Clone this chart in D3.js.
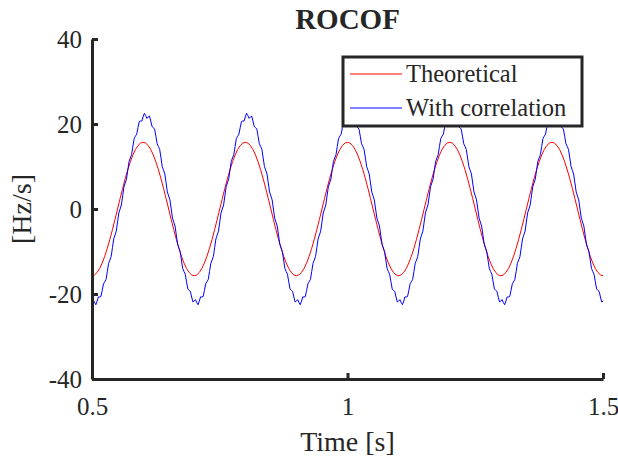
<!DOCTYPE html>
<html>
<head>
<meta charset="utf-8">
<script src="https://cdn.jsdelivr.net/npm/d3@7"></script>
<style>
  html, body { margin: 0; padding: 0; background: #fff; }
  svg { display: block; }
  text { font-family: "Liberation Serif", "Times New Roman", serif; fill: #262626; }
</style>
</head>
<body>
<script>
// ROCOF over time: theoretical vs. estimate with correlation
const title = "ROCOF";
const xLabel = "Time [s]";
const yLabel = "[Hz/s]";
const xTicks = [0.5, 1, 1.5];
const yTicks = [-40, -20, 0, 20, 40];
const seriesNames = ["Theoretical", "With correlation"];

// sample times: start and spacing of each series
const tStart = 0.5;
const theoreticalStep = 0.005;
const correlationStep = 0.0025;

// Theoretical ROCOF [Hz/s], one sample every 5 ms from 0.5 s to 1.5 s
const theoretical = [
  -15.70,-15.51,-14.93,-13.99,-12.70,-11.10,-9.23,-7.13,-4.85,-2.46,
  0,2.46,4.85,7.13,9.23,11.10,12.70,13.99,14.93,15.51,
  15.70,15.51,14.93,13.99,12.70,11.10,9.23,7.13,4.85,2.46,
  0,-2.46,-4.85,-7.13,-9.23,-11.10,-12.70,-13.99,-14.93,-15.51,
  -15.70,-15.51,-14.93,-13.99,-12.70,-11.10,-9.23,-7.13,-4.85,-2.46,
  0,2.46,4.85,7.13,9.23,11.10,12.70,13.99,14.93,15.51,
  15.70,15.51,14.93,13.99,12.70,11.10,9.23,7.13,4.85,2.46,
  0,-2.46,-4.85,-7.13,-9.23,-11.10,-12.70,-13.99,-14.93,-15.51,
  -15.70,-15.51,-14.93,-13.99,-12.70,-11.10,-9.23,-7.13,-4.85,-2.46,
  0,2.46,4.85,7.13,9.23,11.10,12.70,13.99,14.93,15.51,
  15.70,15.51,14.93,13.99,12.70,11.10,9.23,7.13,4.85,2.46,
  0,-2.46,-4.85,-7.13,-9.23,-11.10,-12.70,-13.99,-14.93,-15.51,
  -15.70,-15.51,-14.93,-13.99,-12.70,-11.10,-9.23,-7.13,-4.85,-2.46,
  0,2.46,4.85,7.13,9.23,11.10,12.70,13.99,14.93,15.51,
  15.70,15.51,14.93,13.99,12.70,11.10,9.23,7.13,4.85,2.46,
  0,-2.46,-4.85,-7.13,-9.23,-11.10,-12.70,-13.99,-14.93,-15.51,
  -15.70,-15.51,-14.93,-13.99,-12.70,-11.10,-9.23,-7.13,-4.85,-2.46,
  0,2.46,4.85,7.13,9.23,11.10,12.70,13.99,14.93,15.51,
  15.70,15.51,14.93,13.99,12.70,11.10,9.23,7.13,4.85,2.46,
  0,-2.46,-4.85,-7.13,-9.23,-11.10,-12.70,-13.99,-14.93,-15.51,
  -15.70
];

// ROCOF estimated with correlation [Hz/s], one sample every 2.5 ms
const withCorrelation = [
  -21.67,-21.32,-22.00,-22.52,-21.67,-20.67,-20.71,-20.60,-19.16,-17.60,-17.13,-16.56,-14.71,-12.79,-12.01,-11.18,
  -9.12,-7.04,-6.13,-5.21,-3.08,-0.94,0,0.94,3.08,5.21,6.13,7.04,9.12,11.18,12.01,12.79,
  14.71,16.56,17.13,17.60,19.16,20.60,20.71,20.67,21.67,22.52,22.00,21.32,21.67,21.87,20.71,19.40,
  19.16,18.80,17.13,15.36,14.71,13.99,12.01,9.98,9.12,8.24,6.13,4.01,3.08,2.14,0,-2.14,
  -3.08,-4.01,-6.13,-8.24,-9.12,-9.98,-12.01,-13.99,-14.71,-15.36,-17.13,-18.80,-19.16,-19.40,-20.71,-21.87,
  -21.67,-21.32,-22.00,-22.52,-21.67,-20.67,-20.71,-20.60,-19.16,-17.60,-17.13,-16.56,-14.71,-12.79,-12.01,-11.18,
  -9.12,-7.04,-6.13,-5.21,-3.08,-0.94,0,0.94,3.08,5.21,6.13,7.04,9.12,11.18,12.01,12.79,
  14.71,16.56,17.13,17.60,19.16,20.60,20.71,20.67,21.67,22.52,22.00,21.32,21.67,21.87,20.71,19.40,
  19.16,18.80,17.13,15.36,14.71,13.99,12.01,9.98,9.12,8.24,6.13,4.01,3.08,2.14,0,-2.14,
  -3.08,-4.01,-6.13,-8.24,-9.12,-9.98,-12.01,-13.99,-14.71,-15.36,-17.13,-18.80,-19.16,-19.40,-20.71,-21.87,
  -21.67,-21.32,-22.00,-22.52,-21.67,-20.67,-20.71,-20.60,-19.16,-17.60,-17.13,-16.56,-14.71,-12.79,-12.01,-11.18,
  -9.12,-7.04,-6.13,-5.21,-3.08,-0.94,0,0.94,3.08,5.21,6.13,7.04,9.12,11.18,12.01,12.79,
  14.71,16.56,17.13,17.60,19.16,20.60,20.71,20.67,21.67,22.52,22.00,21.32,21.67,21.87,20.71,19.40,
  19.16,18.80,17.13,15.36,14.71,13.99,12.01,9.98,9.12,8.24,6.13,4.01,3.08,2.14,0,-2.14,
  -3.08,-4.01,-6.13,-8.24,-9.12,-9.98,-12.01,-13.99,-14.71,-15.36,-17.13,-18.80,-19.16,-19.40,-20.71,-21.87,
  -21.67,-21.32,-22.00,-22.52,-21.67,-20.67,-20.71,-20.60,-19.16,-17.60,-17.13,-16.56,-14.71,-12.79,-12.01,-11.18,
  -9.12,-7.04,-6.13,-5.21,-3.08,-0.94,0,0.94,3.08,5.21,6.13,7.04,9.12,11.18,12.01,12.79,
  14.71,16.56,17.13,17.60,19.16,20.60,20.71,20.67,21.67,22.52,22.00,21.32,21.67,21.87,20.71,19.40,
  19.16,18.80,17.13,15.36,14.71,13.99,12.01,9.98,9.12,8.24,6.13,4.01,3.08,2.14,0,-2.14,
  -3.08,-4.01,-6.13,-8.24,-9.12,-9.98,-12.01,-13.99,-14.71,-15.36,-17.13,-18.80,-19.16,-19.40,-20.71,-21.87,
  -21.67,-21.32,-22.00,-22.52,-21.67,-20.67,-20.71,-20.60,-19.16,-17.60,-17.13,-16.56,-14.71,-12.79,-12.01,-11.18,
  -9.12,-7.04,-6.13,-5.21,-3.08,-0.94,0,0.94,3.08,5.21,6.13,7.04,9.12,11.18,12.01,12.79,
  14.71,16.56,17.13,17.60,19.16,20.60,20.71,20.67,21.67,22.52,22.00,21.32,21.67,21.87,20.71,19.40,
  19.16,18.80,17.13,15.36,14.71,13.99,12.01,9.98,9.12,8.24,6.13,4.01,3.08,2.14,0,-2.14,
  -3.08,-4.01,-6.13,-8.24,-9.12,-9.98,-12.01,-13.99,-14.71,-15.36,-17.13,-18.80,-19.16,-19.40,-20.71,-21.87,
  -21.67
];

const colors = ["#ff0000", "#0000ff"];
const axisColor = "#262626";
const serif = '"Liberation Serif", "Times New Roman", serif';

const width = 618, height = 468;
const plot = { left: 92, right: 603, top: 39, bottom: 379 };

const svg = d3.select("body").append("svg")
  .attr("width", width).attr("height", height)
  .style("background", "#fff");

const x = d3.scaleLinear().domain([0.5, 1.5]).range([plot.left, plot.right]);
const y = d3.scaleLinear().domain([-40, 40]).range([plot.bottom, plot.top]);

const toPoints = (vals, step) => vals.map((v, i) => [tStart + i * step, v]);
const line = d3.line().x(d => x(d[0])).y(d => y(d[1]));

// data lines
svg.append("path")
  .attr("d", line(toPoints(theoretical, theoreticalStep)))
  .attr("fill", "none").attr("stroke", colors[0]).attr("stroke-width", 1);
svg.append("path")
  .attr("d", line(toPoints(withCorrelation, correlationStep)))
  .attr("fill", "none").attr("stroke", colors[1]).attr("stroke-width", 1);

// axes with inward ticks; plain hyphen for negative labels
const yAxis = d3.axisLeft(y).tickValues(yTicks).tickFormat(d => String(d))
  .tickSizeInner(-6).tickSizeOuter(0).tickPadding(10);
const xAxis = d3.axisBottom(x).tickValues(xTicks).tickFormat(d => String(d))
  .tickSizeInner(-6).tickSizeOuter(0).tickPadding(18);

const gy = svg.append("g").attr("transform", `translate(${plot.left},0)`).call(yAxis);
const gx = svg.append("g").attr("transform", `translate(0,${plot.bottom})`).call(xAxis);

[gx, gy].forEach(g => {
  g.attr("font-family", serif).attr("font-size", 25);
  g.select(".domain").attr("stroke", axisColor).attr("stroke-width", 3);
  g.selectAll(".tick line").attr("stroke", axisColor).attr("stroke-width", 3);
  g.selectAll(".tick text")
    .style("font-family", serif)
    .style("font-size", "25px").attr("fill", axisColor);
});

// title and axis labels
svg.append("text")
  .attr("x", (plot.left + plot.right) / 2).attr("y", 29)
  .attr("text-anchor", "middle")
  .style("font-size", "29px").style("font-weight", "bold")
  .attr("fill", "#000")
  .text(title);

svg.append("text")
  .attr("x", (plot.left + plot.right) / 2).attr("y", 451)
  .attr("text-anchor", "middle")
  .style("font-size", "28px")
  .text(xLabel);

svg.append("text")
  .attr("transform", `translate(31,${(plot.top + plot.bottom) / 2}) rotate(-90)`)
  .attr("text-anchor", "middle")
  .style("font-size", "28px")
  .text(yLabel);

// legend
const legend = svg.append("g");
legend.append("rect")
  .attr("x", 343).attr("y", 57).attr("width", 239).attr("height", 69)
  .attr("fill", "#fff").attr("stroke", axisColor).attr("stroke-width", 3);
const rowY = [74, 108];
seriesNames.forEach((name, i) => {
  legend.append("line")
    .attr("x1", 350).attr("x2", 402).attr("y1", rowY[i]).attr("y2", rowY[i])
    .attr("stroke", colors[i]).attr("stroke-width", 1);
  legend.append("text")
    .attr("x", 406).attr("y", rowY[i]).attr("dy", "0.33em")
    .style("font-size", "24.5px").attr("fill", "#000")
    .text(name);
});
</script>
</body>
</html>
